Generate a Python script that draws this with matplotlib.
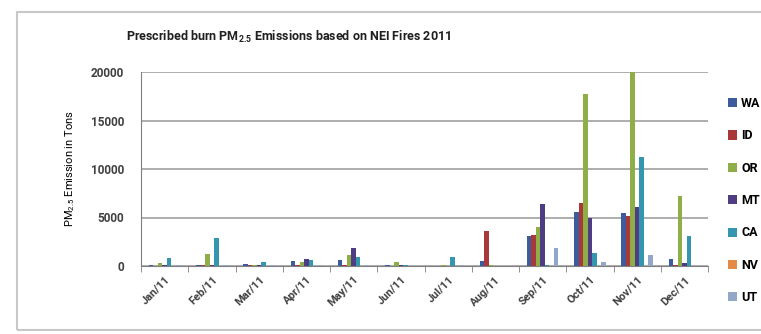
import numpy as np
import matplotlib.pyplot as plt
from matplotlib.patches import Rectangle

months = ["Jan/11", "Feb/11", "Mar/11", "Apr/11", "May/11", "Jun/11",
          "Jul/11", "Aug/11", "Sep/11", "Oct/11", "Nov/11", "Dec/11"]
states = ["WA", "ID", "OR", "MT", "CA", "NV", "UT"]

wa = [100, 100, 200, 500, 600, 150, 50, 500, 3100, 5600, 5500, 700]
id_ = [50, 100, 100, 100, 150, 50, 50, 3600, 3200, 6500, 5200, 100]
or_ = [300, 1200, 100, 400, 1100, 400, 100, 100, 4000, 17700, 20000, 7200]
mt = [100, 100, 150, 750, 1850, 100, 50, 50, 6400, 5000, 6100, 300]
ca = [800, 2900, 450, 650, 900, 150, 900, 50, 100, 1350, 11200, 3100]
nv = [20, 30, 20, 50, 50, 20, 10, 10, 0, 50, 50, 0]
ut = [100, 100, 100, 100, 150, 50, 100, 50, 1850, 400, 1100, 0]

colors = ["#3d5c9e", "#a8383a", "#8fae48", "#4f3d84", "#3597af", "#e58a45", "#93a8c6"]

plt.rcParams['font.family'] = ['Roboto', 'DejaVu Sans']
plt.rcParams['font.weight'] = 'bold'
plt.rcParams['mathtext.default'] = 'regular'

fig = plt.figure(figsize=(7.61, 3.34), dpi=100)

# chart frame
fig.patches.append(Rectangle((17/761, 4/334), 0.99, 318/334, transform=fig.transFigure,
                             fill=False, edgecolor="#c8c8c8", linewidth=1.5))

ax = fig.add_axes([141/761, 68/334, 567/761, 194/334])

x = np.arange(len(months))
w = 0.095
series = [wa, id_, or_, mt, ca, nv, ut]
for i in range(len(states)):
    ax.bar(x + (i - 3) * w, series[i], width=w, color=colors[i], label=states[i], zorder=3)

ax.set_xlim(-0.5, 11.5)
ax.set_ylim(0, 20000)
ax.set_yticks([0, 5000, 10000, 15000, 20000])
ax.yaxis.grid(True, color="#a0a0a0", linewidth=1.2, zorder=0)
ax.set_xticks(x)
ax.set_xticklabels(months, rotation=45, ha='right', rotation_mode='anchor', fontsize=8, color="#404040")
ax.set_xticks(np.arange(-0.5, 12, 1), minor=True)
ax.tick_params(axis='x', which='major', length=0, pad=6)
ax.tick_params(axis='x', which='minor', length=4, color="#808080")
ax.tick_params(axis='y', length=0, labelsize=8.5, labelcolor="#404040", pad=12)
for s in ['top', 'right']:
    ax.spines[s].set_visible(False)
ax.spines['left'].set_color("#808080")
ax.spines['bottom'].set_color("#808080")

ax.set_ylabel("PM$_{2.5}$ Emission in Tons", fontsize=8, labelpad=10)
fig.text(289/761, 1 - 37/334, "Prescribed burn PM$_{2.5}$ Emissions based on NEI Fires 2011",
         ha='center', va='center', fontsize=9, color="#202020")

fig.legend(loc='upper left', bbox_to_anchor=(723/761, 1 - 92/334), frameon=False,
           fontsize=9, handlelength=0.75, handleheight=0.75, handletextpad=0.3,
           labelspacing=1.55, borderaxespad=0)

plt.savefig("out.png", dpi=100)
